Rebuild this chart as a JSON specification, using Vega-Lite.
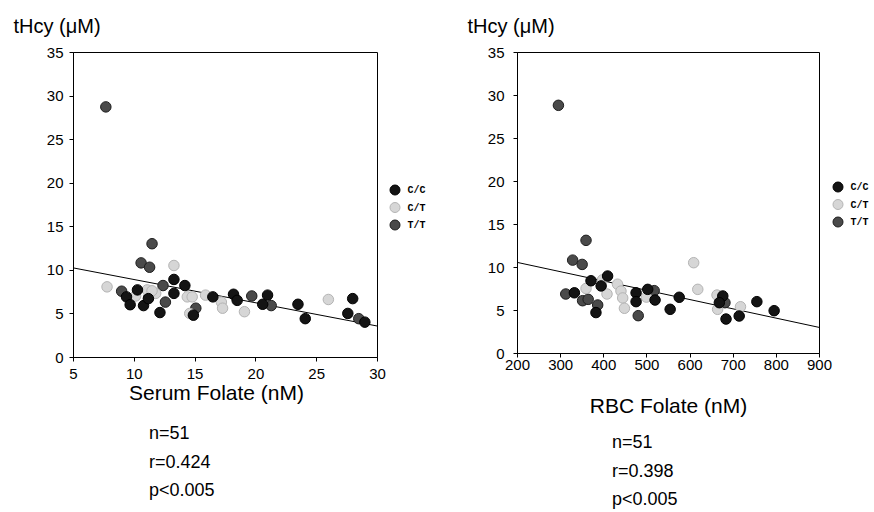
{
  "$schema": "https://vega.github.io/schema/vega-lite/v6.json",
  "background": "white",
  "padding": {"left": 12, "top": 15, "right": 0, "bottom": 0},
  "config": {
    "font": "Liberation Sans",
    "view": {"stroke": "black", "strokeWidth": 1},
    "axis": {"grid": false, "labelFlush": false, "domainColor": "black", "tickColor": "black", "labelColor": "black", "labelFontSize": 15, "titleColor": "black", "titleFontWeight": "normal", "labelFont": "Liberation Sans", "titleFont": "Liberation Sans", "tickSize": 4, "labelPadding": 5},
    "legend": {"orient": "none", "title": null, "padding": 0, "labelFont": "Liberation Mono", "labelFontWeight": "bold", "labelFontSize": 10, "labelColor": "black", "symbolSize": 100, "symbolStrokeWidth": 1, "rowPadding": 2.5, "labelOffset": 7, "symbolType": "circle"}
  },
  "datasets": {
    "serum": [
      {"folate": 7.7, "thcy": 28.7, "genotype": "T/T"},
      {"folate": 11.5, "thcy": 13.0, "genotype": "T/T"},
      {"folate": 10.6, "thcy": 10.8, "genotype": "T/T"},
      {"folate": 11.3, "thcy": 10.3, "genotype": "T/T"},
      {"folate": 9.0, "thcy": 7.55, "genotype": "T/T"},
      {"folate": 11.25, "thcy": 6.9, "genotype": "T/T"},
      {"folate": 12.4, "thcy": 8.2, "genotype": "T/T"},
      {"folate": 12.6, "thcy": 6.3, "genotype": "T/T"},
      {"folate": 15.1, "thcy": 5.6, "genotype": "T/T"},
      {"folate": 19.7, "thcy": 7.0, "genotype": "T/T"},
      {"folate": 21.3, "thcy": 5.9, "genotype": "T/T"},
      {"folate": 28.5, "thcy": 4.4, "genotype": "T/T"},
      {"folate": 13.3, "thcy": 10.5, "genotype": "C/T"},
      {"folate": 7.8, "thcy": 8.05, "genotype": "C/T"},
      {"folate": 10.15, "thcy": 7.0, "genotype": "C/T"},
      {"folate": 11.1, "thcy": 7.7, "genotype": "C/T"},
      {"folate": 11.8, "thcy": 7.3, "genotype": "C/T"},
      {"folate": 11.5, "thcy": 7.6, "genotype": "C/T"},
      {"folate": 14.4, "thcy": 6.9, "genotype": "C/T"},
      {"folate": 14.8, "thcy": 6.9, "genotype": "C/T"},
      {"folate": 14.6, "thcy": 5.0, "genotype": "C/T"},
      {"folate": 15.9, "thcy": 7.1, "genotype": "C/T"},
      {"folate": 17.2, "thcy": 6.3, "genotype": "C/T"},
      {"folate": 17.3, "thcy": 5.6, "genotype": "C/T"},
      {"folate": 19.1, "thcy": 5.2, "genotype": "C/T"},
      {"folate": 26.0, "thcy": 6.6, "genotype": "C/T"},
      {"folate": 9.4, "thcy": 6.9, "genotype": "C/C"},
      {"folate": 9.7, "thcy": 6.0, "genotype": "C/C"},
      {"folate": 10.3, "thcy": 7.7, "genotype": "C/C"},
      {"folate": 10.8, "thcy": 5.9, "genotype": "C/C"},
      {"folate": 11.2, "thcy": 6.7, "genotype": "C/C"},
      {"folate": 12.15, "thcy": 5.1, "genotype": "C/C"},
      {"folate": 13.3, "thcy": 8.9, "genotype": "C/C"},
      {"folate": 13.3, "thcy": 7.3, "genotype": "C/C"},
      {"folate": 14.2, "thcy": 8.2, "genotype": "C/C"},
      {"folate": 14.9, "thcy": 4.8, "genotype": "C/C"},
      {"folate": 16.5, "thcy": 6.9, "genotype": "C/C"},
      {"folate": 18.2, "thcy": 7.2, "genotype": "C/C"},
      {"folate": 18.5, "thcy": 6.5, "genotype": "C/C"},
      {"folate": 20.6, "thcy": 6.05, "genotype": "C/C"},
      {"folate": 21.0, "thcy": 7.1, "genotype": "C/C"},
      {"folate": 23.5, "thcy": 6.05, "genotype": "C/C"},
      {"folate": 24.1, "thcy": 4.4, "genotype": "C/C"},
      {"folate": 27.6, "thcy": 5.0, "genotype": "C/C"},
      {"folate": 28.0, "thcy": 6.7, "genotype": "C/C"},
      {"folate": 29.0, "thcy": 4.0, "genotype": "C/C"}
    ],
    "rbc": [
      {"folate": 296, "thcy": 28.8, "genotype": "T/T"},
      {"folate": 360, "thcy": 13.1, "genotype": "T/T"},
      {"folate": 329, "thcy": 10.8, "genotype": "T/T"},
      {"folate": 351, "thcy": 10.3, "genotype": "T/T"},
      {"folate": 313, "thcy": 6.86, "genotype": "T/T"},
      {"folate": 352, "thcy": 6.08, "genotype": "T/T"},
      {"folate": 365, "thcy": 6.24, "genotype": "T/T"},
      {"folate": 387, "thcy": 5.58, "genotype": "T/T"},
      {"folate": 481, "thcy": 4.34, "genotype": "T/T"},
      {"folate": 518, "thcy": 7.25, "genotype": "T/T"},
      {"folate": 682, "thcy": 5.85, "genotype": "T/T"},
      {"folate": 360, "thcy": 7.5, "genotype": "C/T"},
      {"folate": 398, "thcy": 8.5, "genotype": "C/T"},
      {"folate": 408.6, "thcy": 6.86, "genotype": "C/T"},
      {"folate": 433, "thcy": 8.0, "genotype": "C/T"},
      {"folate": 441, "thcy": 7.2, "genotype": "C/T"},
      {"folate": 445, "thcy": 6.4, "genotype": "C/T"},
      {"folate": 449, "thcy": 5.2, "genotype": "C/T"},
      {"folate": 500, "thcy": 6.5, "genotype": "C/T"},
      {"folate": 609.5, "thcy": 10.5, "genotype": "C/T"},
      {"folate": 619, "thcy": 7.4, "genotype": "C/T"},
      {"folate": 663.6, "thcy": 6.74, "genotype": "C/T"},
      {"folate": 665, "thcy": 5.08, "genotype": "C/T"},
      {"folate": 718, "thcy": 5.38, "genotype": "C/T"},
      {"folate": 333, "thcy": 7.0, "genotype": "C/C"},
      {"folate": 371.5, "thcy": 8.4, "genotype": "C/C"},
      {"folate": 383, "thcy": 4.7, "genotype": "C/C"},
      {"folate": 395, "thcy": 7.8, "genotype": "C/C"},
      {"folate": 410, "thcy": 8.95, "genotype": "C/C"},
      {"folate": 476, "thcy": 7.0, "genotype": "C/C"},
      {"folate": 476, "thcy": 5.97, "genotype": "C/C"},
      {"folate": 503, "thcy": 7.4, "genotype": "C/C"},
      {"folate": 520, "thcy": 6.16, "genotype": "C/C"},
      {"folate": 555, "thcy": 5.08, "genotype": "C/C"},
      {"folate": 576, "thcy": 6.48, "genotype": "C/C"},
      {"folate": 677, "thcy": 6.63, "genotype": "C/C"},
      {"folate": 669, "thcy": 5.85, "genotype": "C/C"},
      {"folate": 684.5, "thcy": 3.95, "genotype": "C/C"},
      {"folate": 715, "thcy": 4.3, "genotype": "C/C"},
      {"folate": 756, "thcy": 5.97, "genotype": "C/C"},
      {"folate": 796, "thcy": 4.92, "genotype": "C/C"}
    ],
    "serumLine": [{"folate": 5, "thcy": 10.23}, {"folate": 30, "thcy": 3.56}],
    "rbcLine": [{"folate": 200, "thcy": 10.54}, {"folate": 900, "thcy": 2.98}]
  },
  "bounds": "flush",
  "spacing": 140,
  "resolve": {
    "scale": {"x": "independent", "y": "independent", "fill": "independent", "stroke": "independent"},
    "legend": {"fill": "independent", "stroke": "independent"}
  },
  "hconcat": [
    {
      "width": 304,
      "height": 305,
      "title": {"text": ["n=51", "r=0.424", "p<0.005"], "orient": "bottom", "anchor": "start", "frame": "group", "dx": 76, "fontSize": 18, "fontWeight": "normal", "lineHeight": 28.5, "offset": 22, "font": "Liberation Sans", "color": "black"},
      "layer": [
        {
          "data": {"name": "serumLine"},
          "mark": {"type": "line", "color": "black", "strokeWidth": 1},
          "encoding": {
            "x": {"field": "folate", "type": "quantitative", "scale": {"domain": [5, 30], "nice": false, "zero": false}, "axis": {"values": [5, 10, 15, 20, 25, 30], "title": "Serum Folate (nM)", "titleFontSize": 21, "titlePadding": 1, "labelPadding": 5, "titleX": 143}},
            "y": {"field": "thcy", "type": "quantitative", "scale": {"domain": [0, 35], "nice": false}, "axis": {"values": [0, 5, 10, 15, 20, 25, 30, 35], "labelPadding": 6, "title": "tHcy (μM)", "titleFontSize": 20, "titleAngle": 0, "titleAlign": "left", "titleBaseline": "alphabetic", "titleX": -60, "titleY": -20}}
          }
        },
        {
          "data": {"name": "serum"},
          "mark": {"type": "circle", "size": 110, "opacity": 1, "strokeWidth": 1},
          "encoding": {
            "x": {"field": "folate", "type": "quantitative"},
            "y": {"field": "thcy", "type": "quantitative"},
            "fill": {"field": "genotype", "type": "nominal", "scale": {"domain": ["C/C", "C/T", "T/T"], "range": ["#141414", "#d6d6d6", "#4a4a4a"]}, "legend": {"legendX": 316.5, "legendY": 132.5}},
            "stroke": {"field": "genotype", "type": "nominal", "scale": {"domain": ["C/C", "C/T", "T/T"], "range": ["#000000", "#b4b4b4", "#1e1e1e"]}, "legend": {"legendX": 316.5, "legendY": 132.5}}
          }
        }
      ]
    },
    {
      "width": 302,
      "height": 301,
      "title": {"text": ["n=51", "r=0.398", "p<0.005"], "orient": "bottom", "anchor": "start", "frame": "group", "dx": 95, "fontSize": 18, "fontWeight": "normal", "lineHeight": 28.5, "offset": 18, "font": "Liberation Sans", "color": "black"},
      "layer": [
        {
          "data": {"name": "rbcLine"},
          "mark": {"type": "line", "color": "black", "strokeWidth": 1},
          "encoding": {
            "x": {"field": "folate", "type": "quantitative", "scale": {"domain": [200, 900], "nice": false, "zero": false}, "axis": {"values": [200, 300, 400, 500, 600, 700, 800, 900], "title": "RBC Folate (nM)", "titleFontSize": 21, "titlePadding": 23, "labelPadding": 0}},
            "y": {"field": "thcy", "type": "quantitative", "scale": {"domain": [0, 35], "nice": false}, "axis": {"values": [0, 5, 10, 15, 20, 25, 30, 35], "labelPadding": 9, "title": "tHcy (μM)", "titleFontSize": 20, "titleAngle": 0, "titleAlign": "left", "titleBaseline": "alphabetic", "titleX": -50, "titleY": -20}}
          }
        },
        {
          "data": {"name": "rbc"},
          "mark": {"type": "circle", "size": 110, "opacity": 1, "strokeWidth": 1},
          "encoding": {
            "x": {"field": "folate", "type": "quantitative"},
            "y": {"field": "thcy", "type": "quantitative"},
            "fill": {"field": "genotype", "type": "nominal", "scale": {"domain": ["C/C", "C/T", "T/T"], "range": ["#141414", "#d6d6d6", "#4a4a4a"]}, "legend": {"legendX": 315.5, "legendY": 129.5}},
            "stroke": {"field": "genotype", "type": "nominal", "scale": {"domain": ["C/C", "C/T", "T/T"], "range": ["#000000", "#b4b4b4", "#1e1e1e"]}, "legend": {"legendX": 315.5, "legendY": 129.5}}
          }
        }
      ]
    }
  ]
}
